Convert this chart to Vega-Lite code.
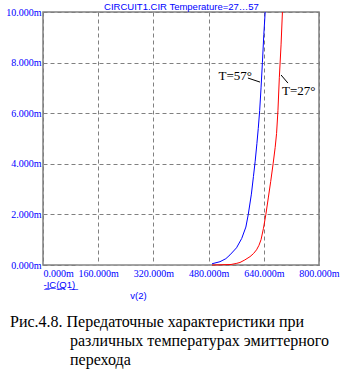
{
  "$schema": "https://vega.github.io/schema/vega-lite/v6.json",
  "width": 276,
  "height": 253,
  "autosize": {"type": "none"},
  "padding": {"left": 43, "top": 12, "right": 24, "bottom": 110},
  "background": "white",
  "config": {
    "view": {"stroke": "#808080", "strokeWidth": 1.5},
    "axis": {
      "labelFont": "Liberation Sans Narrow",
      "labelFontSize": 10,
      "labelColor": "#0000ff",
      "titleFont": "Liberation Sans",
      "titleFontSize": 9.5,
      "titleFontWeight": "normal",
      "titleColor": "#0000ff",
      "ticks": false,
      "domain": false,
      "gridColor": "#808080",
      "gridDash": [4, 3],
      "gridOpacity": 1,
      "gridWidth": 1
    }
  },
  "title": {
    "text": [
      "Рис.4.8. Передаточные характеристики при",
      "\u200b\u00a0\u00a0\u00a0\u00a0\u00a0\u00a0\u00a0\u00a0\u00a0\u00a0\u00a0\u00a0\u00a0\u00a0\u00a0различных температурах эмиттерного",
      "\u200b\u00a0\u00a0\u00a0\u00a0\u00a0\u00a0\u00a0\u00a0\u00a0\u00a0\u00a0\u00a0\u00a0\u00a0\u00a0перехода"
    ],
    "orient": "bottom",
    "anchor": "start",
    "frame": "group",
    "dx": -33,
    "offset": 14,
    "font": "Liberation Serif",
    "fontSize": 16,
    "fontWeight": "normal",
    "color": "#000000",
    "lineHeight": 19
  },
  "resolve": {"axis": {"x": "independent"}},
  "layer": [
    {
      "data": {
        "values": [
          {"series": "base", "v": 100, "I": 0},
          {"series": "base", "v": 490, "I": 0},
          {"series": "T=57", "v": 490, "I": 0.05},
          {"series": "T=57", "v": 513, "I": 0.13},
          {"series": "T=57", "v": 530, "I": 0.25},
          {"series": "T=57", "v": 542, "I": 0.4},
          {"series": "T=57", "v": 561, "I": 0.68},
          {"series": "T=57", "v": 576, "I": 1.05},
          {"series": "T=57", "v": 588, "I": 1.5},
          {"series": "T=57", "v": 595, "I": 2.0},
          {"series": "T=57", "v": 604, "I": 2.8},
          {"series": "T=57", "v": 610, "I": 3.5},
          {"series": "T=57", "v": 615, "I": 4.1},
          {"series": "T=57", "v": 620, "I": 4.8},
          {"series": "T=57", "v": 624, "I": 5.4},
          {"series": "T=57", "v": 628, "I": 6.1},
          {"series": "T=57", "v": 632, "I": 7.0},
          {"series": "T=57", "v": 636, "I": 8.0},
          {"series": "T=57", "v": 640, "I": 9.1},
          {"series": "T=57", "v": 644, "I": 10.0},
          {"series": "T=27", "v": 490, "I": 0},
          {"series": "T=27", "v": 545, "I": 0.02},
          {"series": "T=27", "v": 560, "I": 0.06},
          {"series": "T=27", "v": 571, "I": 0.1},
          {"series": "T=27", "v": 585, "I": 0.2},
          {"series": "T=27", "v": 600, "I": 0.33},
          {"series": "T=27", "v": 610, "I": 0.45},
          {"series": "T=27", "v": 619, "I": 0.6},
          {"series": "T=27", "v": 626, "I": 0.78},
          {"series": "T=27", "v": 632, "I": 1.0},
          {"series": "T=27", "v": 639, "I": 1.45},
          {"series": "T=27", "v": 646, "I": 2.0},
          {"series": "T=27", "v": 653, "I": 2.65},
          {"series": "T=27", "v": 660, "I": 3.3},
          {"series": "T=27", "v": 667, "I": 4.0},
          {"series": "T=27", "v": 673, "I": 4.65},
          {"series": "T=27", "v": 677, "I": 5.2},
          {"series": "T=27", "v": 681, "I": 6.1},
          {"series": "T=27", "v": 685, "I": 7.4},
          {"series": "T=27", "v": 690, "I": 8.7},
          {"series": "T=27", "v": 694, "I": 10.0}
        ]
      },
      "mark": {"type": "line", "strokeWidth": 1, "interpolate": "linear"},
      "encoding": {
        "x": {
          "field": "v", "type": "quantitative",
          "scale": {"domain": [0, 800], "nice": false, "zero": false},
          "axis": {
            "values": [0, 160, 320, 480, 640, 800],
            "labelExpr": "format(datum.value, '.3f') + 'm'",
            "labelAlign": {"condition": {"test": "datum.value == 0", "value": "left"}, "value": "center"},
            "labelPadding": 3,
            "labelFlush": false,
            "labelOverlap": false,
            "title": "v(2)",
            "titleX": 95,
            "titleY": 30,
            "titleAlign": "center",
            "titleBaseline": "middle"
          }
        },
        "y": {
          "field": "I", "type": "quantitative",
          "scale": {"domain": [0, 10], "nice": false},
          "axis": {
            "values": [0, 2, 4, 6, 8, 10],
            "labelExpr": "format(datum.value, '.3f') + 'm'",
            "labelPadding": 2,
            "labelFlush": false,
            "labelOverlap": false,
            "title": "-̲I̲C̲(̲Q̲1̲)̲",
            "titleAngle": 0,
            "titleX": 0,
            "titleY": 272,
            "titleAlign": "left",
            "titleBaseline": "middle"
          }
        },
        "color": {
          "field": "series", "type": "nominal",
          "scale": {"domain": ["base", "T=57", "T=27"], "range": ["#a8a8a8", "#0000ff", "#ff0000"]},
          "legend": null
        }
      }
    },
    {
      "data": {
        "values": [
          {"v1": 594, "v2": 629, "I1": 7.39, "I2": 7.23},
          {"v1": 690, "v2": 710, "I1": 7.51, "I2": 7.19}
        ]
      },
      "mark": {"type": "rule", "color": "#000000", "strokeWidth": 1},
      "encoding": {
        "x": {
          "field": "v1", "type": "quantitative",
          "scale": {"domain": [0, 800], "nice": false, "zero": false},
          "axis": {
            "orient": "top",
            "labels": false,
            "grid": false,
            "title": "CIRCUIT1.CIR Temperature=27…57",
            "titleX": 138,
            "titleY": -6,
            "titleAlign": "center",
            "titleBaseline": "middle"
          }
        },
        "x2": {"field": "v2"},
        "y": {"field": "I1", "type": "quantitative"},
        "y2": {"field": "I2"}
      }
    },
    {
      "data": {"values": [{"v": 606, "I": 7.47, "label": "T=57°"}]},
      "mark": {"type": "text", "align": "right", "baseline": "middle", "font": "Liberation Serif", "fontSize": 13, "color": "#000000"},
      "encoding": {
        "x": {"field": "v", "type": "quantitative", "axis": null},
        "y": {"field": "I", "type": "quantitative"},
        "text": {"field": "label"}
      }
    },
    {
      "data": {"values": [{"v": 693, "I": 6.88, "label": "T=27°"}]},
      "mark": {"type": "text", "align": "left", "baseline": "middle", "font": "Liberation Serif", "fontSize": 13, "color": "#000000"},
      "encoding": {
        "x": {"field": "v", "type": "quantitative", "axis": null},
        "y": {"field": "I", "type": "quantitative"},
        "text": {"field": "label"}
      }
    }
  ]
}
